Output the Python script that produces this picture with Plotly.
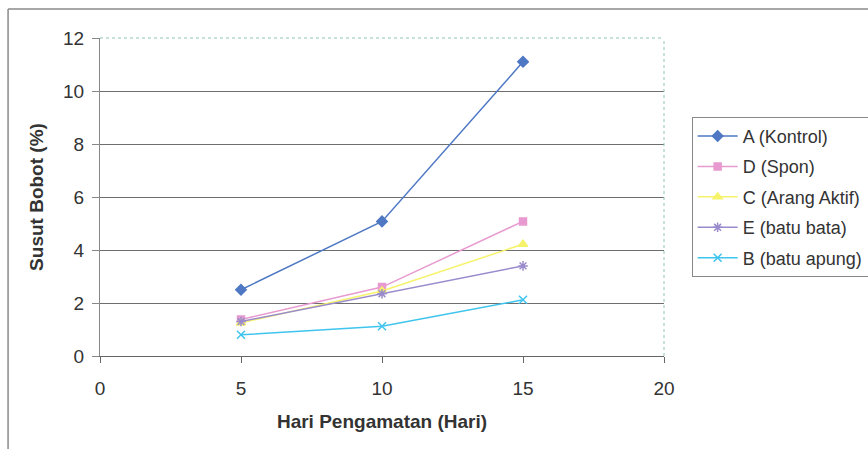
import plotly.graph_objects as go

# Observation days and weight loss (%) for each treatment
hari = [5, 10, 15]
series_names = ["A (Kontrol)", "D (Spon)", "C (Arang Aktif)", "E (batu bata)", "B (batu apung)"]
susut_a = [2.5, 5.08, 11.1]
susut_d = [1.38, 2.6, 5.08]
susut_c = [1.25, 2.45, 4.22]
susut_e = [1.3, 2.35, 3.4]
susut_b = [0.8, 1.12, 2.12]

x_ticks = [0, 5, 10, 15, 20]
y_ticks = [0, 2, 4, 6, 8, 10, 12]

styles = [
    dict(color="#4f78c4", symbol="diamond", size=8),
    dict(color="#e89ad0", symbol="square", size=7),
    dict(color="#f6f36a", symbol="triangle-up", size=8),
    dict(color="#9a8ccc", symbol="asterisk-open", size=8),
    dict(color="#3fc4ee", symbol="x-thin-open", size=8),
]
values = [susut_a, susut_d, susut_c, susut_e, susut_b]

fig = go.Figure()
for i, (name, vals, st) in enumerate(zip(series_names, values, styles)):
    fig.add_trace(go.Scatter(
        x=hari, y=vals, name=name, mode="lines+markers",
        legendgroup=f"g{i}",
        line=dict(color=st["color"], width=1.5),
        marker=dict(symbol=st["symbol"], size=st["size"], color=st["color"],
                    line=dict(color=st["color"], width=1.5)),
    ))

font_main = "Liberation Sans, Arial, sans-serif"

fig.update_layout(
    width=868, height=449,
    margin=dict(l=100, r=204, t=38, b=93, autoexpand=False),
    paper_bgcolor="white", plot_bgcolor="white",
    font=dict(family=font_main, size=19, color="#333333"),
    showlegend=True,
    legend=dict(
        x=1.049, y=0.752, xanchor="left", yanchor="top",
        bordercolor="#888888", borderwidth=1, bgcolor="white",
        font=dict(size=18, color="#333333"),
        tracegroupgap=4, itemwidth=40,
    ),
    xaxis=dict(
        range=[0, 20], tickvals=x_ticks, showgrid=False, zeroline=False,
        showline=True, linecolor="#666666", linewidth=1,
        ticks="outside", ticklen=6, tickcolor="#666666",
        ticklabelstandoff=9,
        title=dict(text="<b>Hari Pengamatan (Hari)</b>", font=dict(size=19), standoff=16),
    ),
    yaxis=dict(
        range=[0, 12], tickvals=y_ticks, showgrid=True, gridcolor="#6e6e6e", gridwidth=1,
        zeroline=False, showline=True, linecolor="#888888", linewidth=1,
        ticks="outside", ticklen=7, tickcolor="#888888",
        ticklabelstandoff=4,
        title=dict(text="<b>Susut Bobot (%)</b>", font=dict(size=19), standoff=14),
    ),
    shapes=[
        # top and right edges of the plot area
        dict(type="line", xref="x domain", yref="y domain", x0=0, x1=1, y0=1, y1=1,
             line=dict(color="white", width=2), layer="above"),
        dict(type="line", xref="x domain", yref="y domain", x0=0, x1=1, y0=1, y1=1,
             line=dict(color="#8fc4b8", width=1, dash="dot"), layer="above"),
        dict(type="line", xref="x domain", yref="y domain", x0=1, x1=1, y0=0, y1=1,
             line=dict(color="#8fc4b8", width=1, dash="dot"), layer="above"),
        # outer chart frame
        dict(type="line", xref="paper", yref="paper", x0=-0.163, x1=1.6, y0=1.091, y1=1.091,
             line=dict(color="#8a8a8a", width=1.5)),
        dict(type="line", xref="paper", yref="paper", x0=-0.163, x1=-0.163, y0=1.091, y1=-0.4,
             line=dict(color="#8a8a8a", width=1.5)),
    ],
)

fig.write_html("out.html")
